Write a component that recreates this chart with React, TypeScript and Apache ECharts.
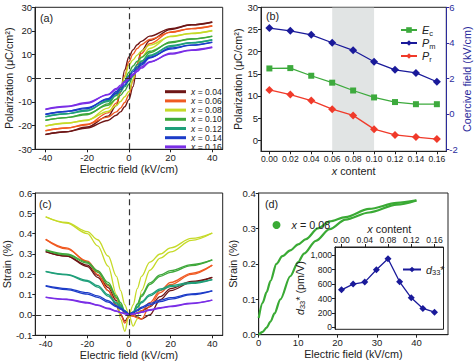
import React, { useEffect, useRef } from "react";
import * as echarts from "echarts";

// ---------- DATA ----------
// (a) P-E loops, field grid (kV/cm)
const E_A = [-40, -30, -20, -10, -6, -4, -2, 0, 2, 4, 6, 10, 20, 30, 40];
const P04_UP = [-23.8, -22.6, -20.6, -16.0, -11.5, -6.0, 3.5, 9.0, 12.0, 14.2, 15.6, 17.8, 21.0, 22.6, 23.7];
const P04_DN = [-23.7, -22.6, -21.0, -17.8, -15.6, -14.2, -12.0, -9.0, -3.5, 6.0, 11.5, 16.0, 20.6, 22.6, 23.8];
const P06_UP = [-22.2, -21.0, -19.6, -14.6, -10.5, -6.0, 1.0, 7.0, 10.2, 12.6, 14.2, 16.4, 19.4, 21.0, 22.1];
const P06_DN = [-22.1, -21.0, -19.4, -16.4, -14.2, -12.6, -10.2, -7.0, -1.0, 6.0, 10.5, 14.6, 19.6, 21.0, 22.2];
const P08_UP = [-20.2, -18.9, -17.8, -12.6, -8.8, -5.0, 0.5, 5.6, 7.8, 9.8, 11.5, 14.0, 17.6, 19.0, 20.1];
const P08_DN = [-20.1, -19.0, -17.6, -14.0, -11.5, -9.8, -7.8, -5.6, -0.5, 5.0, 8.8, 12.6, 17.8, 18.9, 20.2];
const P10_UP = [-17.8, -16.6, -15.4, -10.8, -7.0, -4.2, -1.0, 2.5, 5.2, 7.2, 8.8, 11.4, 15.0, 16.6, 17.7];
const P10_DN = [-17.7, -16.6, -15.0, -11.4, -8.8, -7.2, -5.2, -2.5, 1.0, 4.2, 7.0, 10.8, 15.4, 16.6, 17.8];
const P12_UP = [-16.3, -15.0, -13.8, -9.4, -6.1, -3.9, -1.4, 1.2, 3.5, 5.7, 7.3, 9.8, 13.4, 15.0, 16.2];
const P12_DN = [-16.2, -15.0, -13.4, -9.8, -7.3, -5.7, -3.5, -1.2, 1.4, 3.9, 6.1, 9.4, 13.8, 15.0, 16.3];
const P14_UP = [-15.3, -14.0, -12.8, -8.6, -5.6, -3.7, -1.6, 0.7, 2.8, 4.8, 6.4, 8.9, 12.4, 14.0, 15.2];
const P14_DN = [-15.2, -14.0, -12.4, -8.9, -6.4, -4.8, -2.8, -0.7, 1.6, 3.7, 5.6, 8.6, 12.8, 14.0, 15.3];
const P16_UP = [-13.2, -12.0, -10.6, -6.8, -4.3, -2.9, -1.4, 0.3, 1.8, 3.5, 4.8, 7.0, 10.2, 11.8, 13.0];
const P16_DN = [-13.0, -11.8, -10.2, -7.0, -4.8, -3.5, -1.8, -0.3, 1.4, 2.9, 4.3, 6.8, 10.6, 12.0, 13.2];

const COMPOSITIONS = ["0.04", "0.06", "0.08", "0.10", "0.12", "0.14", "0.16"];

// (b) x content and properties
const X_CONTENT = [0, 0.02, 0.04, 0.06, 0.08, 0.1, 0.12, 0.14, 0.16];
const EC = [2.56, 2.58, 2.15, 1.76, 1.32, 0.93, 0.67, 0.55, 0.55];
const PM = [25.3, 24.7, 23.8, 22.0, 20.3, 17.7, 15.9, 15.2, 13.2];
const PR = [11.35, 10.3, 8.95, 7.0, 5.6, 2.5, 1.2, 0.7, 0.25];
const SHADE_RANGE = [0.06, 0.1];

// (c) bipolar strain, field grid (kV/cm)
const E_C = [-40, -30, -20, -15, -10, -6, -4, -2, 0, 2, 4, 6, 10, 15, 20, 30, 40];
const S04_A = [0.312, 0.29, 0.238, 0.185, 0.12, 0.045, 0.003, -0.03, -0.005, 0.0, 0.01, 0.02, 0.04, 0.09, 0.13, 0.165, 0.185];
const S04_B = [0.312, 0.29, 0.245, 0.195, 0.135, 0.07, 0.035, 0.01, 0.0, -0.005, -0.01, -0.02, 0.0, 0.075, 0.12, 0.16, 0.185];
const S06_A = [0.372, 0.33, 0.26, 0.2, 0.12, 0.05, 0.0, -0.04, -0.01, 0.0, 0.01, 0.02, 0.06, 0.12, 0.16, 0.205, 0.245];
const S06_B = [0.372, 0.325, 0.265, 0.215, 0.145, 0.08, 0.04, 0.01, 0.0, -0.005, -0.015, -0.02, 0.045, 0.11, 0.15, 0.2, 0.245];
const S08_A = [0.483, 0.452, 0.4, 0.34, 0.24, 0.1, -0.02, -0.08, 0.0, 0.05, 0.13, 0.19, 0.26, 0.3, 0.33, 0.377, 0.403];
const S08_B = [0.483, 0.455, 0.41, 0.37, 0.29, 0.19, 0.12, 0.05, 0.0, -0.055, -0.02, 0.12, 0.22, 0.28, 0.31, 0.367, 0.403];
const S10_A = [0.32, 0.3, 0.26, 0.218, 0.16, 0.094, 0.06, 0.02, 0.0, 0.01, 0.05, 0.09, 0.15, 0.19, 0.21, 0.243, 0.271];
const S10_B = [0.318, 0.296, 0.255, 0.21, 0.15, 0.085, 0.05, 0.015, 0.0, 0.015, 0.055, 0.098, 0.158, 0.197, 0.218, 0.248, 0.271];
const S12_A = [0.215, 0.2, 0.17, 0.144, 0.1, 0.06, 0.045, 0.02, 0.0, 0.01, 0.036, 0.06, 0.094, 0.122, 0.139, 0.155, 0.174];
const S12_B = [0.213, 0.197, 0.165, 0.137, 0.093, 0.055, 0.038, 0.015, 0.0, 0.015, 0.04, 0.066, 0.1, 0.128, 0.145, 0.16, 0.174];
const S14_A = [0.144, 0.13, 0.11, 0.094, 0.07, 0.045, 0.033, 0.02, 0.005, 0.01, 0.02, 0.033, 0.05, 0.066, 0.078, 0.1, 0.119];
const S14_B = [0.142, 0.125, 0.103, 0.087, 0.063, 0.04, 0.028, 0.015, 0.005, 0.013, 0.025, 0.038, 0.057, 0.073, 0.085, 0.104, 0.119];
const S16_A = [0.088, 0.078, 0.062, 0.05, 0.033, 0.02, 0.013, 0.007, 0.002, 0.004, 0.008, 0.013, 0.023, 0.033, 0.041, 0.056, 0.073];
const S16_B = [0.087, 0.076, 0.059, 0.047, 0.03, 0.018, 0.011, 0.006, 0.002, 0.005, 0.009, 0.015, 0.026, 0.036, 0.044, 0.058, 0.073];

// (d) unipolar strain, x = 0.08
const E_D_DOWN = [0, 1, 2, 3, 4.5, 6, 8, 10, 12, 15, 18, 22, 28, 35, 40];
const S_D_DOWN = [0.047, 0.09, 0.12, 0.152, 0.2, 0.222, 0.238, 0.255, 0.27, 0.3, 0.32, 0.332, 0.355, 0.372, 0.379];
const E_D_UP = [0, 1, 2, 3, 4, 5.5, 8, 10, 11.5, 14.5, 18, 22, 28, 35, 40];
const S_D_UP = [0, 0.008, 0.02, 0.037, 0.06, 0.1, 0.165, 0.205, 0.229, 0.265, 0.298, 0.325, 0.345, 0.367, 0.379];

// inset d33*
const D33 = [522, 601, 629, 800, 953, 633, 411, 264, 212];

// tick labels
const TICKS_E = [-40, -20, 0, 20, 40];
const TICKS_P = [-30, -20, -10, 0, 10, 20, 30];
const TICKS_PB = [0, 5, 10, 15, 20, 25, 30];
const TICKS_EC = [-2, 0, 2, 4, 6];
const TICKS_XB = [0, 0.02, 0.04, 0.06, 0.08, 0.1, 0.12, 0.14, 0.16];
const TICKS_SC = [-0.1, 0, 0.1, 0.2, 0.3, 0.4, 0.5, 0.6];
const TICKS_SD = [0, 0.1, 0.2, 0.3, 0.4];
const TICKS_ED = [0, 10, 20, 30, 40];
const TICKS_XI = [0, 0.04, 0.08, 0.12, 0.16];
const TICKS_D33 = [0, 200, 400, 600, 800, 1000];

// ---------- STYLE ----------
const FONT = "'Liberation Sans', Arial, sans-serif";
const INK = "#222";
const BLUE_AX = "#2b2b9c";
const COLORS = ["#6e1616", "#f05a22", "#c6da28", "#3fa83b", "#1f9f7a", "#1c3cc8", "#7a2ee6"];
const C_EC = "#3daa3d";
const C_PM = "#1a1a9a";
const C_PR = "#f03a2a";
const C_D = "#3aaa35";
const TICK_FS = 9.5;
const SMALL_FS = 8.6;
const LEG_FS = 8.6;
const NAME_FS = 10.8;

const zip = (xs: number[], ys: number[]) => xs.map((x, i) => [x, ys[i]]);
const rich = {
  i: { fontStyle: "italic", fontFamily: FONT, fontSize: NAME_FS, color: INK },
  s: { fontFamily: FONT, fontSize: 7.5, color: INK, padding: [6, 0, 0, 0] },
};

function axis(extra: any) {
  const color = extra.color || INK;
  return {
    type: "value",
    axisLine: { show: true, onZero: false, lineStyle: { color, width: 1 } },
    axisTick: { show: true, inside: false, length: 3, lineStyle: { color }, customValues: extra.ticks },
    axisLabel: {
      color,
      fontSize: extra.fs || TICK_FS,
      fontFamily: FONT,
      margin: 3,
      customValues: extra.ticks,
      formatter: extra.fmt,
    },
    splitLine: { show: false },
    nameLocation: "middle",
    nameTextStyle: { fontSize: NAME_FS, fontFamily: FONT, color, rich },
    ...extra.opts,
  };
}

const P_UP = [P04_UP, P06_UP, P08_UP, P10_UP, P12_UP, P14_UP, P16_UP];
const P_DN = [P04_DN, P06_DN, P08_DN, P10_DN, P12_DN, P14_DN, P16_DN];
const S_A = [S04_A, S06_A, S08_A, S10_A, S12_A, S14_A, S16_A];
const S_B = [S04_B, S06_B, S08_B, S10_B, S12_B, S14_B, S16_B];

const zeroLines = {
  silent: true,
  symbol: "none",
  label: { show: false },
  lineStyle: { type: [6, 4], color: "#333", width: 1.2 },
  data: [{ xAxis: 0 }, { yAxis: 0 }],
};

function buildOption() {
  const series: any[] = [];
  // (a)
  COMPOSITIONS.forEach((name, k) => {
    [P_UP[k], P_DN[k]].forEach((arr, j) => {
      series.push({
        type: "line",
        name,
        xAxisIndex: 0,
        yAxisIndex: 0,
        data: zip(E_A, arr),
        smooth: 0.35,
        smoothMonotone: "x",
        symbol: "none",
        color: COLORS[k],
        lineStyle: { width: 1.4 },
        z: 3,
        ...(k === 0 && j === 0 ? { markLine: zeroLines } : {}),
      });
    });
  });
  // (b)
  series.push({
    type: "line", name: "Ec", xAxisIndex: 1, yAxisIndex: 2,
    data: zip(X_CONTENT, EC), symbol: "rect", symbolSize: 6, color: C_EC, lineStyle: { width: 1.3 },
  });
  series.push({
    type: "line", name: "Pm", xAxisIndex: 1, yAxisIndex: 1,
    data: zip(X_CONTENT, PM), symbol: "diamond", symbolSize: 8, color: C_PM, lineStyle: { width: 1.3 },
  });
  series.push({
    type: "line", name: "Pr", xAxisIndex: 1, yAxisIndex: 1,
    data: zip(X_CONTENT, PR), symbol: "diamond", symbolSize: 8, color: C_PR, lineStyle: { width: 1.3 },
  });
  series.push({
    type: "line", name: "shade", xAxisIndex: 1, yAxisIndex: 1, data: [], z: 6, silent: true,
    markArea: {
      silent: true,
      itemStyle: { color: "rgba(200,206,206,0.55)" },
      data: [[{ xAxis: SHADE_RANGE[0] }, { xAxis: SHADE_RANGE[1] }]],
    },
  });
  // (c)
  COMPOSITIONS.forEach((name, k) => {
    [S_A[k], S_B[k]].forEach((arr, j) => {
      series.push({
        type: "line",
        name,
        xAxisIndex: 2,
        yAxisIndex: 3,
        data: zip(E_C, arr),
        smooth: 0.35,
        smoothMonotone: "x",
        symbol: "none",
        color: COLORS[k],
        lineStyle: { width: 1.3 },
        z: 3,
        ...(k === 0 && j === 0 ? { markLine: zeroLines } : {}),
      });
    });
  });
  // (d)
  series.push({
    type: "line", name: "d0.08", xAxisIndex: 3, yAxisIndex: 4,
    data: zip(E_D_DOWN, S_D_DOWN), smooth: 0.3, smoothMonotone: "x", symbol: "none", color: C_D, lineStyle: { width: 2.2 },
  });
  series.push({
    type: "line", name: "d0.08", xAxisIndex: 3, yAxisIndex: 4,
    data: zip(E_D_UP, S_D_UP), smooth: 0.3, smoothMonotone: "x", symbol: "none", color: C_D, lineStyle: { width: 2.2 },
  });
  // inset
  series.push({
    type: "line", name: "d33", xAxisIndex: 4, yAxisIndex: 5,
    data: zip(X_CONTENT, D33), symbol: "diamond", symbolSize: 7, color: C_PM, lineStyle: { width: 1.3 }, z: 5,
  });

  const gridBase = { show: true, borderColor: INK, borderWidth: 1, backgroundColor: "transparent" };
  const fmt1 = (v: number) => v.toFixed(1);
  const fmt2 = (v: number) => v.toFixed(2);

  return {
    animation: false,
    backgroundColor: "#fff",
    textStyle: { fontFamily: FONT },
    grid: [
      { ...gridBase, left: 35, top: 7.3, width: 187.7, height: 142 },
      { ...gridBase, left: 261, top: 7.3, width: 185.3, height: 144 },
      { ...gridBase, left: 35, top: 193, width: 187.7, height: 142.3 },
      { ...gridBase, left: 258.7, top: 193, width: 189.3, height: 141.7 },
      { ...gridBase, left: 335, top: 247, width: 108.5, height: 82.3, backgroundColor: "#fff", z: 4 },
    ],
    xAxis: [
      axis({ ticks: TICKS_E, opts: { gridIndex: 0, min: -45, max: 45, name: "Electric field (kV/cm)", nameGap: 14 } }),
      axis({ ticks: TICKS_XB, fs: SMALL_FS, fmt: fmt2, opts: { gridIndex: 1, min: -0.008, max: 0.169, name: "{i|x} content", nameGap: 14 } }),
      axis({ ticks: TICKS_E, opts: { gridIndex: 2, min: -45, max: 45, name: "Electric field (kV/cm)", nameGap: 14 } }),
      axis({ ticks: TICKS_ED, opts: { gridIndex: 3, min: 0, max: 48, name: "Electric field (kV/cm)", nameGap: 14 } }),
      axis({ ticks: TICKS_XI, fs: SMALL_FS, fmt: fmt2, opts: { gridIndex: 4, position: "top", min: -0.0112, max: 0.1755, name: "{i|x} content", nameGap: 12, z: 5 } }),
    ],
    yAxis: [
      axis({ ticks: TICKS_P, opts: { gridIndex: 0, min: -30, max: 30, name: "Polarization (μC/cm²)", nameGap: 17, nameRotate: 90 } }),
      axis({ ticks: TICKS_PB, opts: { gridIndex: 1, min: -2.5, max: 30, name: "Polarization (μC/cm²)", nameGap: 14, nameRotate: 90 } }),
      axis({ ticks: TICKS_EC, color: BLUE_AX, opts: { gridIndex: 1, position: "right", min: -2.1, max: 6, name: "Coercive field (kV/cm)", nameGap: 10, nameRotate: 90 } }),
      axis({ ticks: TICKS_SC, fmt: fmt1, opts: { gridIndex: 2, min: -0.1, max: 0.6, name: "Strain (%)", nameGap: 19, nameRotate: 90 } }),
      axis({ ticks: TICKS_SD, fmt: fmt1, opts: { gridIndex: 3, min: 0, max: 0.4, name: "Strain (%)", nameGap: 19, nameRotate: 90 } }),
      axis({ ticks: TICKS_D33, fs: SMALL_FS, opts: { gridIndex: 4, min: -25, max: 1115, name: "{i|d}{s|33}* (pm/V)", nameGap: 22, nameRotate: 90, z: 5 } }),
    ],
    legend: [
      {
        data: COMPOSITIONS,
        orient: "vertical",
        left: 160,
        top: 82.1,
        itemWidth: 21,
        itemHeight: 3,
        itemGap: 0,
        icon: "rect",
        itemStyle: { borderWidth: 0 },
        textStyle: {
          fontSize: LEG_FS, fontFamily: FONT, color: INK, lineHeight: 9.2,
          rich: { i: { fontStyle: "italic", fontSize: LEG_FS, fontFamily: FONT, lineHeight: 9.2 } },
        },
        formatter: (n: string) => `{i|x} = ${n}`,
        selectedMode: false,
      },
      {
        data: ["Ec", "Pm", "Pr"],
        orient: "vertical",
        left: 395,
        top: 18,
        itemWidth: 16,
        itemHeight: 7,
        itemGap: -1,
        textStyle: {
          fontSize: NAME_FS, fontFamily: FONT, color: INK, lineHeight: 13,
          rich: {
            i: { fontStyle: "italic", fontSize: NAME_FS, fontFamily: FONT, lineHeight: 13 },
            s: { fontSize: 7.5, fontFamily: FONT, padding: [6, 0, 0, 0], lineHeight: 13 },
          },
        },
        formatter: (n: string) => `{i|${n[0]}}{s|${n[1]}}`,
        selectedMode: false,
      },
      {
        data: ["d0.08"],
        left: 267.5,
        top: 214.5,
        icon: "circle",
        itemWidth: 8,
        itemHeight: 8,
        textStyle: {
          fontSize: NAME_FS, fontFamily: FONT, color: INK,
          rich: { i: { fontStyle: "italic", fontSize: NAME_FS, fontFamily: FONT, padding: [0, 0, 0, 6] } },
        },
        formatter: () => "{i|x} = 0.08",
        selectedMode: false,
      },
      {
        data: ["d33"],
        left: 397,
        top: 259,
        itemWidth: 18,
        itemHeight: 7,
        z: 6,
        textStyle: {
          fontSize: NAME_FS, fontFamily: FONT, color: INK,
          rich: {
            i: { fontStyle: "italic", fontSize: NAME_FS, fontFamily: FONT },
            s: { fontSize: 7.5, fontFamily: FONT, padding: [6, 0, 0, 0] },
          },
        },
        formatter: () => "{i|d}{s|33}*",
        selectedMode: false,
      },
    ],
    graphic: [
      { type: "text", x: 40, y: 18, style: { text: "(a)", fontSize: NAME_FS, fontFamily: FONT, fill: INK, verticalAlign: "middle" } },
      { type: "text", x: 266, y: 16, style: { text: "(b)", fontSize: NAME_FS, fontFamily: FONT, fill: INK, verticalAlign: "middle" } },
      { type: "text", x: 39, y: 204, style: { text: "(c)", fontSize: NAME_FS, fontFamily: FONT, fill: INK, verticalAlign: "middle" } },
      { type: "text", x: 265, y: 204, style: { text: "(d)", fontSize: NAME_FS, fontFamily: FONT, fill: INK, verticalAlign: "middle" } },
    ],
    series,
  };
}

export default function App() {
  const ref = useRef<HTMLDivElement>(null);
  useEffect(() => {
    const chart = echarts.init(ref.current!, null, { renderer: "svg" });
    chart.setOption(buildOption() as any);
    return () => chart.dispose();
  }, []);
  return (
    <div
      ref={ref}
      style={{ position: "fixed", left: 0, top: 0, width: 474, height: 363, background: "#fff" }}
    />
  );
}
